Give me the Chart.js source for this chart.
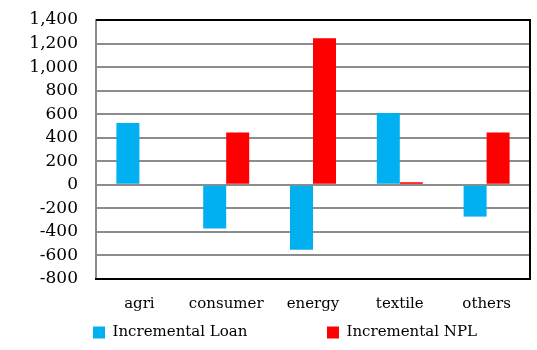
<!DOCTYPE html>
<html>
<head>
<meta charset="utf-8">
<script src="https://cdn.jsdelivr.net/npm/chart.js@4"></script>
<style>
  html, body { margin: 0; padding: 0; background: #fff; }
  #wrap { width: 537px; height: 350px; position: relative; }
</style>
</head>
<body>
<div id="wrap"><canvas id="chart"></canvas></div>
<script>
// data
const categories = ["agri", "consumer", "energy", "textile", "others"];
const incrementalLoan = [525, -370, -552, 610, -270];
const incrementalNpl = [null, 445, 1245, 22, 445];
const yMin = -800, yMax = 1400, yStep = 200;

const blue = "#00B0F0";
const red = "#FF0000";
const serif = "'DejaVu Serif', serif";

// top and right edge of the plot frame
const frameEdges = {
  id: "frameEdges",
  afterDraw(chart) {
    const { ctx, chartArea: a } = chart;
    ctx.save();
    ctx.strokeStyle = "#000";
    ctx.lineWidth = 2;
    ctx.beginPath();
    ctx.moveTo(a.left, a.top);
    ctx.lineTo(a.right, a.top);
    ctx.lineTo(a.right, a.bottom);
    ctx.stroke();
    ctx.restore();
  }
};

// the legend in the original sits a little right of centre
const legendShift = {
  id: "legendShift",
  afterLayout(chart) {
    chart.legend.left += 20;
    chart.legend.right += 20;
  }
};

new Chart(document.getElementById("chart"), {
  type: "bar",
  data: {
    labels: categories,
    datasets: [
      { label: "Incremental Loan", data: incrementalLoan, backgroundColor: blue },
      { label: "Incremental NPL", data: incrementalNpl, backgroundColor: red }
    ]
  },
  options: {
    responsive: true,
    maintainAspectRatio: false,
    animation: false,
    layout: { padding: { left: 0, right: 7, top: 0, bottom: 0 } },
    datasets: { bar: { categoryPercentage: 0.53, barPercentage: 1 } },
    scales: {
      y: {
        min: yMin,
        max: yMax,
        ticks: {
          stepSize: yStep,
          autoSkip: false,
          padding: 18,
          color: "#000",
          font: { family: serif, size: 17 },
          callback: (v) => v.toLocaleString("en-US")
        },
        grid: { color: "#8c8c8c", lineWidth: 2, drawTicks: false },
        border: { color: "#8c8c8c", width: 2 },
        afterFit: (s) => {
          s.width = 96;
          // tick padding is meant horizontally only
          s.paddingTop = 20;
          s.paddingBottom = 10;
        }
      },
      x: {
        ticks: { color: "#000", padding: 16, font: { family: serif, size: 15 } },
        grid: { display: false, drawTicks: false },
        border: { color: "#000", width: 2 },
        afterFit: (s) => { s.height = 38; }
      }
    },
    plugins: {
      legend: {
        position: "bottom",
        labels: {
          boxWidth: 12,
          boxHeight: 12,
          padding: 8,
          color: "#000",
          font: { family: serif, size: 15 },
          // widen the gap after the first entry like the original
          generateLabels: (chart) => {
            const items = Chart.defaults.plugins.legend.labels.generateLabels(chart);
            items[0].text += "\u00a0".repeat(15);
            items.forEach((it) => { it.lineWidth = 0; });
            return items;
          }
        }
      },
      tooltip: { enabled: false }
    }
  },
  plugins: [frameEdges, legendShift]
});
</script>
</body>
</html>
